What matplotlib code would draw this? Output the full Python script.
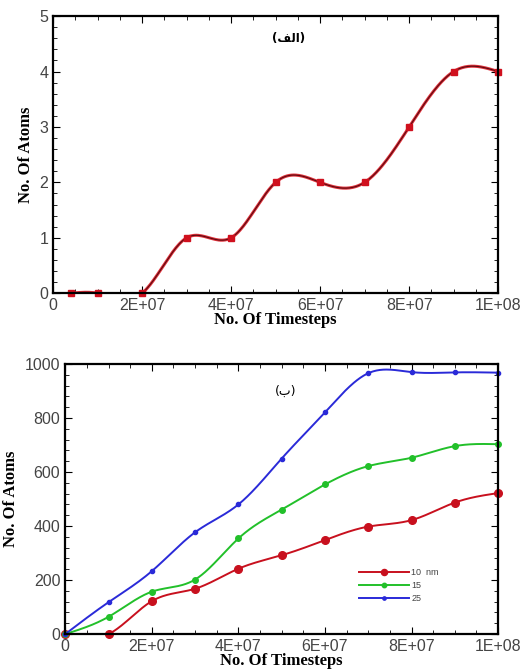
import numpy as np
import matplotlib
matplotlib.use("Agg")
import matplotlib.pyplot as plt
from matplotlib.ticker import FuncFormatter, MultipleLocator, AutoMinorLocator

# top panel (alef)
steps_a = [0.4e7, 1e7, 2e7, 3e7, 4e7, 5e7, 6e7, 7e7, 8e7, 9e7, 10e7]
atoms_a = [0, 0, 0, 1, 1, 2, 2, 2, 3, 4, 4]

# bottom panel (be)
steps_b = [0, 1e7, 2e7, 3e7, 4e7, 5e7, 6e7, 7e7, 8e7, 9e7, 10e7]
atoms_10nm = [0, 0, 122, 168, 242, 292, 348, 398, 422, 487, 522]
atoms_15 = [0, 64, 157, 202, 354, 461, 554, 622, 653, 696, 703]
atoms_25 = [0, 118, 233, 377, 480, 650, 821, 966, 970, 969, 968]
legend_labels = ["10  nm", "15", "25"]

title_a = "(\ufed2\ufedf\ufe8d)"   # (الف) in visual order
title_b = "(\ufe8f)"               # (ب)


def spline(x, y, n=400):
    # natural cubic spline, only used to draw the smooth line through the points
    x = np.asarray(x, float) / 1e7
    y = np.asarray(y, float)
    h = np.diff(x)
    m = len(x)
    A = np.zeros((m, m))
    b = np.zeros(m)
    A[0, 0] = A[-1, -1] = 1
    for i in range(1, m - 1):
        A[i, i - 1] = h[i - 1]
        A[i, i] = 2 * (h[i - 1] + h[i])
        A[i, i + 1] = h[i]
        b[i] = 3 * ((y[i + 1] - y[i]) / h[i] - (y[i] - y[i - 1]) / h[i - 1])
    c = np.linalg.solve(A, b)
    xs = np.linspace(x[0], x[-1], n)
    idx = np.clip(np.searchsorted(x, xs) - 1, 0, m - 2)
    bb = (y[1:] - y[:-1]) / h - h * (2 * c[:-1] + c[1:]) / 3
    d = (c[1:] - c[:-1]) / (3 * h)
    t = xs - x[idx]
    ys = y[idx] + bb[idx] * t + c[idx] * t ** 2 + d[idx] * t ** 3
    return xs * 1e7, ys


def sci(v, pos):
    if v == 0:
        return "0"
    e = int(np.floor(np.log10(abs(v)) + 1e-9))
    return f"{v / 10 ** e:.0f}E+{e:02d}"


def style(ax):
    ax.set_xlim(0, 1e8)
    ax.xaxis.set_major_locator(MultipleLocator(2e7))
    ax.xaxis.set_minor_locator(AutoMinorLocator(4))
    ax.xaxis.set_major_formatter(FuncFormatter(sci))
    ax.yaxis.set_minor_locator(AutoMinorLocator(5))
    ax.tick_params(which="both", direction="in", top=True, right=True)
    ax.tick_params(which="major", length=5, labelsize=11.5, labelcolor="#444444")
    ax.tick_params(which="minor", length=3)
    for s in ax.spines.values():
        s.set_linewidth(1.6)
    ax.set_xlabel("No. Of Timesteps", family="Liberation Serif", weight="bold",
                  fontsize=12, labelpad=-1)
    ax.set_ylabel("No. Of Atoms", family="Liberation Serif", weight="bold",
                  fontsize=12)
    for lab in ax.get_xticklabels() + ax.get_yticklabels():
        lab.set_family("Liberation Sans")


plt.rcParams["font.family"] = ["Liberation Sans", "DejaVu Sans"]
fig = plt.figure(figsize=(5.26, 6.71), dpi=100)

ax1 = fig.add_axes([0.101, 0.563, 0.846, 0.413])
xs, ys = spline(steps_a, atoms_a)
ax1.plot(xs, ys, color="#e0303a", lw=2.2)
ax1.plot(xs, ys, color="#5a0a10", lw=0.8)
ax1.plot(steps_a, atoms_a, "s", color="#d0101e", ms=4.5, ls="none", clip_on=False)
ax1.set_ylim(0, 5)
ax1.yaxis.set_major_locator(MultipleLocator(1))
style(ax1)
ax1.text(5.3e7, 4.6, title_a, family="DejaVu Sans", fontsize=8.5, weight="bold",
         ha="center", va="center")

ax2 = fig.add_axes([0.124, 0.055, 0.823, 0.4025])
series = [(atoms_10nm, "#c8101e", 5.5), (atoms_15, "#22c02a", 4), (atoms_25, "#2a2ad8", 3)]
for (vals, col, ms), lab in zip(series, legend_labels):
    xs, ys = spline(steps_b, vals)
    ax2.plot(xs, ys, color=col, lw=1.4)
    ax2.plot(steps_b, vals, "o", color=col, ms=ms, clip_on=False)
    ax2.plot([], [], "-o", color=col, ms=ms, lw=1.4, label=lab)
ax2.set_ylim(0, 1000)
ax2.yaxis.set_major_locator(MultipleLocator(200))
ax2.yaxis.set_minor_locator(AutoMinorLocator(4))
style(ax2)
ax2.text(5.1e7, 900, title_b, family="DejaVu Sans", fontsize=9,
         ha="center", va="center")
ax2.legend(loc="center left", bbox_to_anchor=(0.66, 0.18), frameon=False,
           fontsize=6.5, handlelength=5.5, labelspacing=0.45, handletextpad=0.3,
           markerscale=0.8, labelcolor="#444444")

fig.savefig("out.png", dpi=100)
